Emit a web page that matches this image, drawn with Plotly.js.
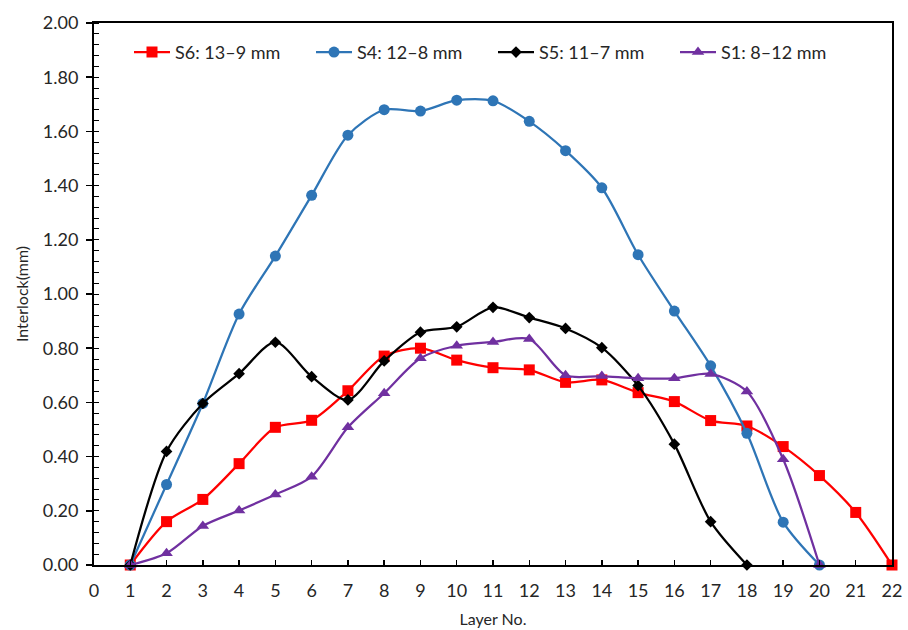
<!DOCTYPE html>
<html>
<head>
<meta charset="utf-8">
<script src="https://cdn.plot.ly/plotly-3.0.1.min.js"></script>
<style>html,body{margin:0;padding:0;background:#fff;}#chart{width:908px;height:630px;}</style>
</head>
<body>
<div id="chart"></div>
<script>
const layersS6 = [1,2,3,4,5,6,7,8,9,10,11,12,13,14,15,16,17,18,19,20,21,22];
const valuesS6 = [0,0.16,0.242,0.374,0.508,0.534,0.643,0.771,0.80,0.756,0.728,0.72,0.674,0.683,0.636,0.603,0.533,0.513,0.437,0.33,0.194,0];
const layersS4 = [1,2,3,4,5,6,7,8,9,10,11,12,13,14,15,16,17,18,19,20];
const valuesS4 = [0,0.297,0.596,0.926,1.14,1.364,1.586,1.68,1.675,1.715,1.713,1.637,1.529,1.392,1.145,0.937,0.735,0.486,0.158,0];
const layersS5 = [1,2,3,4,5,6,7,8,9,10,11,12,13,14,15,16,17,18];
const valuesS5 = [0,0.419,0.596,0.706,0.822,0.695,0.609,0.753,0.859,0.879,0.951,0.913,0.873,0.802,0.662,0.446,0.16,0];
const layersS1 = [1,2,3,4,5,6,7,8,9,10,11,12,13,14,15,16,17,18,19,20];
const valuesS1 = [0,0.043,0.144,0.201,0.26,0.326,0.508,0.634,0.763,0.809,0.823,0.834,0.70,0.697,0.689,0.689,0.705,0.64,0.39,0];
const seriesNames = ["S6: 13–9 mm","S4: 12–8 mm","S5: 11–7 mm","S1: 8–12 mm"];
const xTickVals = [0,1,2,3,4,5,6,7,8,9,10,11,12,13,14,15,16,17,18,19,20,21,22];

function tr(x, y, name, color, symbol, size) {
  return {
    x: x, y: y, name: name, type: 'scatter', mode: 'lines+markers',
    line: {color: color, width: 2.25, shape: 'spline', smoothing: 0.8},
    marker: {color: color, symbol: symbol, size: size},
    cliponaxis: false
  };
}
const data = [
  tr(layersS6, valuesS6, seriesNames[0], '#FF0000', 'square', 11),
  tr(layersS4, valuesS4, seriesNames[1], '#2E75B6', 'circle', 11),
  tr(layersS5, valuesS5, seriesNames[2], '#000000', 'diamond', 9),
  tr(layersS1, valuesS1, seriesNames[3], '#7030A0', 'triangle-up', 11)
];
const FF = 'Lato, "Open Sans", sans-serif';
const tickFont = {family: FF, size: 18, color: '#262626'};
const layout = {
  width: 908, height: 630,
  margin: {l: 94, r: 16, t: 23, b: 65},
  paper_bgcolor: '#ffffff', plot_bgcolor: '#ffffff',
  showlegend: true,
  legend: {orientation: 'h', x: 0.5, xanchor: 'center', y: 0.98, yanchor: 'top',
           font: {family: FF, size: 18, color: '#262626'},
           bgcolor: 'rgba(0,0,0,0)', itemwidth: 36, entrywidth: 131, entrywidthmode: 'pixels'},
  xaxis: {
    range: [0, 22], tickvals: xTickVals, ticktext: xTickVals.map(String),
    showgrid: false, zeroline: false,
    showline: true, linecolor: '#000', linewidth: 2, mirror: true,
    ticks: 'inside', ticklen: 5, tickwidth: 1.5, tickcolor: '#000',
    ticklabelstandoff: 8,
    tickfont: tickFont,
    title: {text: 'Layer No.', font: {family: FF, size: 16, color: '#262626'}, standoff: 14}
  },
  yaxis: {
    range: [0, 2], dtick: 0.2, tick0: 0, tickformat: '.2f',
    showgrid: false, zeroline: false,
    showline: true, linecolor: '#000', linewidth: 2, mirror: true,
    ticks: 'outside', ticklen: 6, tickwidth: 1.5, tickcolor: '#000',
    ticklabelstandoff: 4,
    minor: {dtick: 0.04, ticks: 'inside', ticklen: 5, tickwidth: 1, tickcolor: '#000', showgrid: false},
    tickfont: tickFont,
    title: {text: 'Interlock(mm)', font: {family: FF, size: 16, color: '#262626'}, standoff: 10}
  }
};
Plotly.newPlot('chart', data, layout, {displayModeBar: false, staticPlot: true});
</script>
</body>
</html>
